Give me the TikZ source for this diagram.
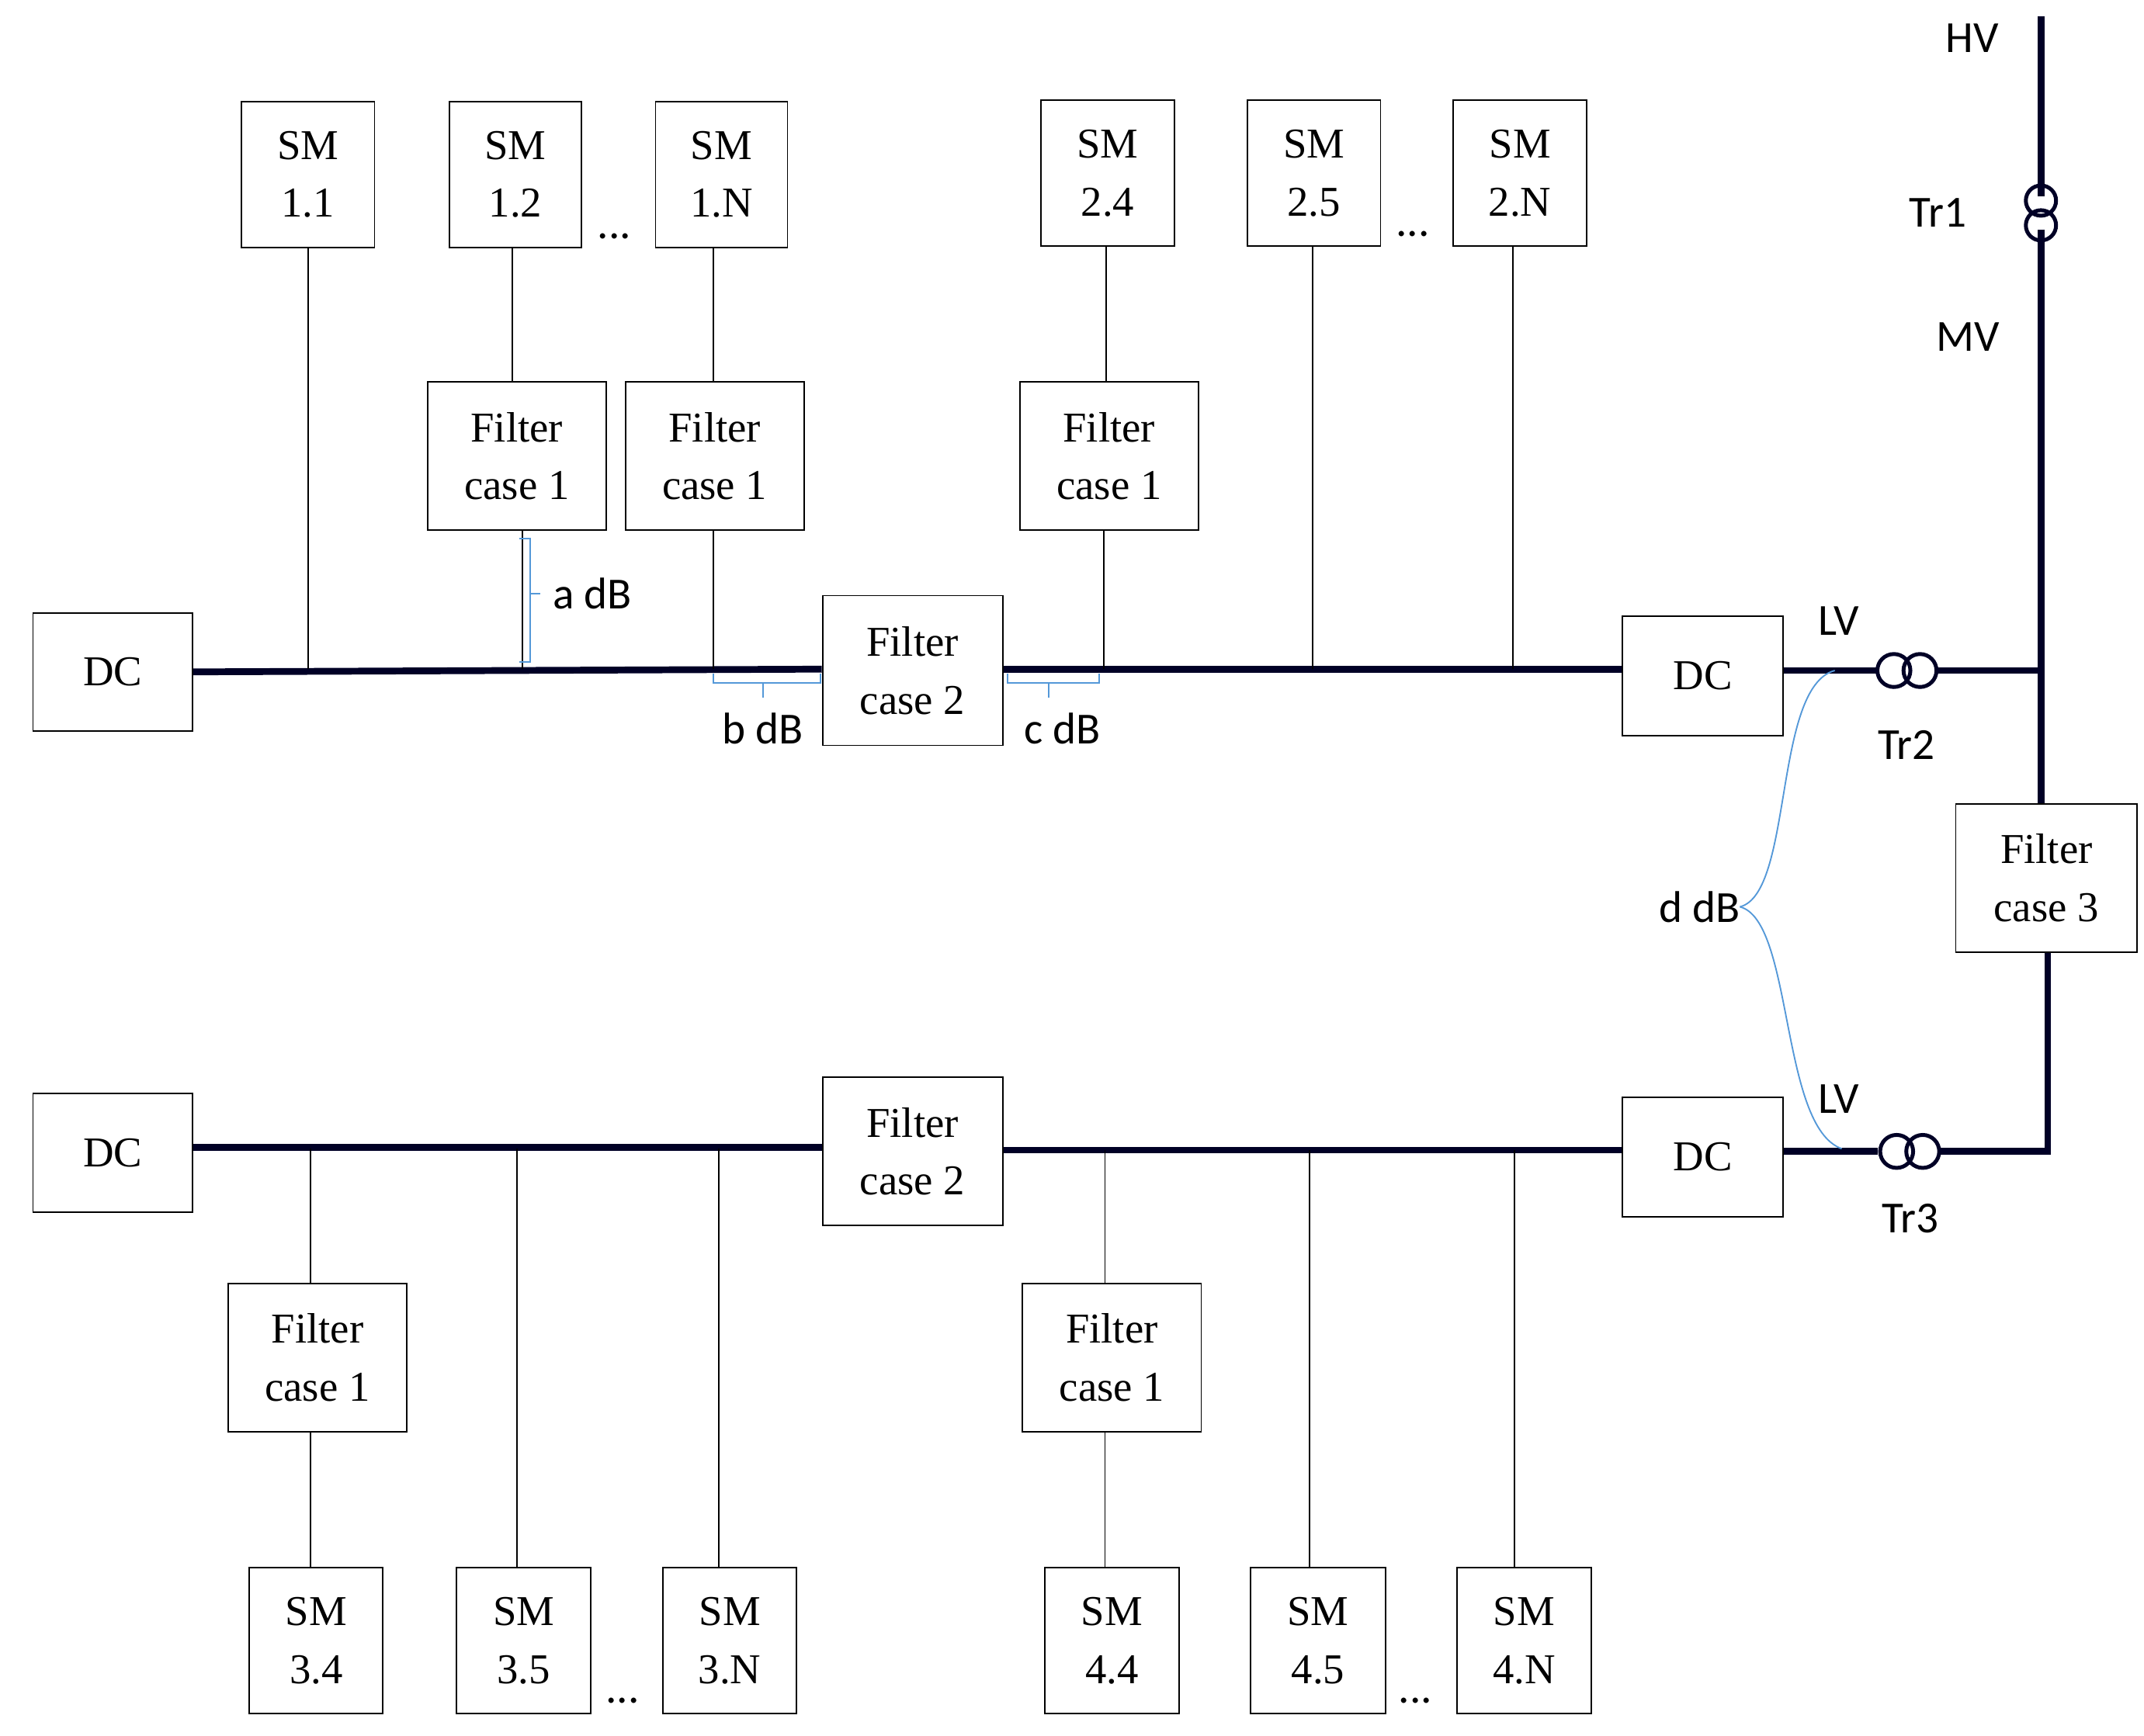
\documentclass[tikz,border=0pt]{standalone}
\usepackage{fontspec}
\setmainfont{Liberation Serif}
\newfontfamily\lab{Carlito}
\begin{document}
\begin{tikzpicture}[x=0.05cm,y=-0.05cm,
 box/.style={draw,line width=1.5pt,align=center,font=\fontsize{44}{60}\selectfont,inner sep=0pt},
 bus/.style={line width=7pt,color=black!85!blue},
 wire/.style={line width=1.5pt},
 lbl/.style={font=\lab\fontsize{46}{50}\selectfont,inner sep=0pt},
 br/.style={draw=cyan!60!blue!70,line width=1.5pt},
 tr/.style={line width=4pt,color=black!85!blue}]
\useasboundingbox (0,0) rectangle (1560,1263);
\newcommand{\bx}[5]{\node[box,minimum width=#3*0.05cm,minimum height=#4*0.05cm] (#1) at (#2) {#5};}
% top row
\bx{dc1}{82,489}{116}{86}{DC}
\bx{dc2}{1239,492}{117}{87}{DC}
\bx{fc2a}{664,488}{131}{109}{Filter\\case 2}
\bx{sm11}{224,127}{97}{106}{SM\\1.1}
\bx{sm12}{375,127}{96}{106}{SM\\1.2}
\bx{sm1N}{525,127}{96}{106}{SM\\1.N}
\bx{sm24}{806,126}{97}{106}{SM\\2.4}
\bx{sm25}{956,126}{97}{106}{SM\\2.5}
\bx{sm2N}{1106,126}{97}{106}{SM\\2.N}
\bx{f1a}{376,332}{130}{108}{Filter\\case 1}
\bx{f1b}{520,332}{130}{108}{Filter\\case 1}
\bx{f1c}{807,332}{130}{108}{Filter\\case 1}
\bx{fc3}{1489,639}{132}{108}{Filter\\case 3}
% bottom row
\bx{dc3}{82,839}{116}{86}{DC}
\bx{dc4}{1239,842}{117}{87}{DC}
\bx{fc2b}{664,838}{131}{108}{Filter\\case 2}
\bx{f1d}{231,988}{130}{108}{Filter\\case 1}
\bx{f1e}{809,988}{130}{108}{Filter\\case 1}
\bx{sm34}{230,1194}{97}{106}{SM\\3.4}
\bx{sm35}{381,1194}{98}{106}{SM\\3.5}
\bx{sm3N}{531,1194}{97}{106}{SM\\3.N}
\bx{sm44}{809,1194}{98}{106}{SM\\4.4}
\bx{sm45}{959,1194}{98}{106}{SM\\4.5}
\bx{sm4N}{1109,1194}{98}{106}{SM\\4.N}
% buses
\draw[bus] (dc1.east) -- (fc2a.west|-0,487);
\draw[bus] (fc2a.east|-0,487) -- (dc2.west|-0,487);
\draw[bus] (dc2.east|-0,488) -- (1366,488);
\draw[bus] (1410,488) -- (1487,488);
\draw[bus] (dc3.east|-0,835) -- (fc2b.west|-0,835);
\draw[bus] (fc2b.east|-0,837) -- (dc4.west|-0,837);
\draw[bus] (dc4.east|-0,838) -- (1366,838);
\draw[bus] (1412,838) -- (1490,838) -- (fc3.south-|1490,0);
\draw[bus] (1485,12) -- (1485,143);
\draw[bus] (1485,167) -- (fc3.north-|1485,0);
% transformers
\draw[tr] (1485,146) circle (11) (1485,164) circle (11);
\draw[tr] (1378,488) circle (12) (1397,488) circle (12);
\draw[tr] (1380,838) circle (12) (1399,838) circle (12);
% top wires
\draw[wire] (sm11.south) -- (sm11.south|-0,487);
\draw[wire] (sm12.south-|373,0) -- (f1a.north-|373,0);
\draw[wire] (f1a.south-|380,0) -- (380,487);
\draw[wire] (sm1N.south-|519,0) -- (f1b.north-|519,0);
\draw[wire] (f1b.south-|519,0) -- (519,487);
\draw[wire] (sm24.south-|805,0) -- (f1c.north-|805,0);
\draw[wire] (f1c.south-|803,0) -- (803,487);
\draw[wire] (sm25.south-|955,0) -- (955,487);
\draw[wire] (sm2N.south-|1101,0) -- (1101,487);
% bottom wires
\draw[wire] (226,836) -- (f1d.north-|226,0);
\draw[wire] (f1d.south-|226,0) -- (sm34.north-|226,0);
\draw[wire] (376,836) -- (sm35.north-|376,0);
\draw[wire] (523,836) -- (sm3N.north-|523,0);
\draw[wire] (804,837) -- (f1e.north-|804,0);
\draw[wire] (f1e.south-|804,0) -- (sm44.north-|804,0);
\draw[wire] (953,837) -- (sm45.north-|953,0);
\draw[wire] (1102,837) -- (sm4N.north-|1102,0);
% dots
\node[lbl] (d1) at (447,172) {...};
\node[lbl] (d2) at (1028,170) {...};
\node[lbl] (d3) at (453,1238) {...};
\node[lbl] (d4) at (1030,1238) {...};
% labels
\node[lbl] (hv) at (1435,28) {HV};
\node[lbl] (t1) at (1410,155) {Tr1};
\node[lbl] (mv) at (1432,245) {MV};
\node[lbl] (lv1) at (1338,452) {LV};
\node[lbl] (t2) at (1387,542) {Tr2};
\node[lbl] (lv2) at (1338,800) {LV};
\node[lbl] (t3) at (1390,887) {Tr3};
\node[lbl,anchor=east] (ddb) at (1266,660) {d dB};
\node[lbl,anchor=west] (adb) at (402,432) {a dB};
\node[lbl] (bdb) at (555,530) {b dB};
\node[lbl] (cdb) at (773,530) {c dB};
% brackets
\draw[br] (378,392) -- (386,392) -- (386,482) -- (378,482) (386,432) -- (393,432);
\draw[br] (519,490) -- (519,497) -- (597,497) -- (597,490) (555,497) -- (555,508);
\draw[br] (733,490) -- (733,497) -- (800,497) -- (800,490) (763,497) -- (763,508);
\draw[br] (ddb.east) .. controls (1305,650) and (1290,500) .. (1335,488);
\draw[br] (ddb.east) .. controls (1305,670) and (1295,820) .. (1340,836);
\end{tikzpicture}
\end{document}
